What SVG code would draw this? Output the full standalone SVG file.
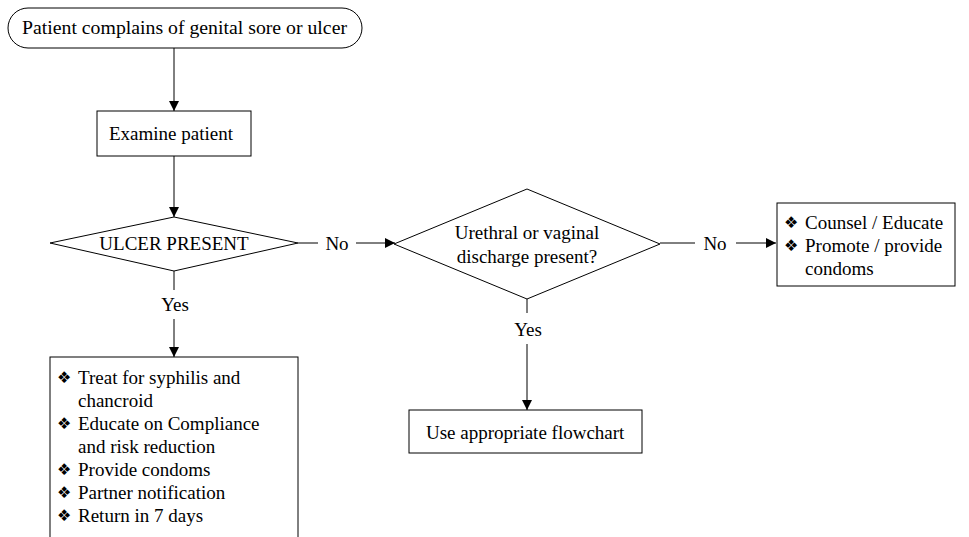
<svg xmlns="http://www.w3.org/2000/svg" width="969" height="537" viewBox="0 0 969 537">
<defs>
<marker id="ah" markerWidth="10" markerHeight="10" refX="10" refY="5" orient="auto" markerUnits="userSpaceOnUse">
<path d="M0,0 L10,5 L0,10 Z" fill="#000"/>
</marker>
<style>
.s{fill:#fff;stroke:#000;stroke-width:1}
.t{font-family:"Liberation Serif","Times New Roman",serif;font-size:19px;fill:#000}
.c{text-anchor:middle}
.b{font-family:"DejaVu Sans",sans-serif;font-size:16px}
.l{stroke:#000;stroke-width:1;fill:none}
</style>
</defs>
<rect width="969" height="537" fill="#fff"/>
<g id="connectors">
<line class="l" x1="174" y1="48" x2="174" y2="111" marker-end="url(#ah)"/>
<line class="l" x1="174" y1="156" x2="174" y2="217" marker-end="url(#ah)"/>
<line class="l" x1="298" y1="243" x2="318" y2="243"/>
<line class="l" x1="356" y1="243" x2="395" y2="243" marker-end="url(#ah)"/>
<line class="l" x1="174" y1="271" x2="174" y2="290"/>
<line class="l" x1="174" y1="319" x2="174" y2="357" marker-end="url(#ah)"/>
<line class="l" x1="660" y1="243" x2="695" y2="243"/>
<line class="l" x1="736" y1="243" x2="776" y2="243" marker-end="url(#ah)"/>
<line class="l" x1="527" y1="299" x2="527" y2="313"/>
<line class="l" x1="527" y1="344" x2="527" y2="410" marker-end="url(#ah)"/>
<text class="t c" x="337" y="250">No</text>
<text class="t c" x="715" y="250">No</text>
<text class="t c" x="175" y="311">Yes</text>
<text class="t c" x="528" y="336">Yes</text>
</g>
<g id="start">
<rect class="s" x="8" y="8" width="354" height="40" rx="20" ry="20"/>
<text class="t" x="22" y="34" textLength="325" lengthAdjust="spacingAndGlyphs">Patient complains of genital sore or ulcer</text>
</g>
<g id="examine">
<rect class="s" x="97" y="111" width="154" height="45"/>
<text class="t c" x="171" y="140">Examine patient</text>
</g>
<g id="ulcer">
<polygon class="s" points="174,217 298,243 174,271 50,243"/>
<text class="t c" x="174" y="250">ULCER PRESENT</text>
</g>
<g id="discharge">
<polygon class="s" points="527,189 660,244 527,299 394,244"/>
<text class="t c" x="527" y="239">Urethral or vaginal</text>
<text class="t c" x="527" y="263">discharge present?</text>
</g>
<g id="counsel">
<rect class="s" x="777" y="203" width="178" height="83"/>
<text class="t"><tspan class="b" x="784" y="228">❖</tspan><tspan x="805" y="229">Counsel / Educate</tspan></text>
<text class="t"><tspan class="b" x="784" y="251">❖</tspan><tspan x="805" y="252">Promote / provide</tspan></text>
<text class="t" x="805" y="275">condoms</text>
</g>
<g id="flowchart">
<rect class="s" x="409" y="410" width="233" height="43"/>
<text class="t" x="426" y="439">Use appropriate flowchart</text>
</g>
<g id="treat">
<rect class="s" x="50" y="357" width="248" height="190"/>
<text class="t"><tspan class="b" x="57" y="383">❖</tspan><tspan x="78" y="384">Treat for syphilis and</tspan></text>
<text class="t" x="78" y="407">chancroid</text>
<text class="t"><tspan class="b" x="57" y="429">❖</tspan><tspan x="78" y="430">Educate on Compliance</tspan></text>
<text class="t" x="78" y="453">and risk reduction</text>
<text class="t"><tspan class="b" x="57" y="475">❖</tspan><tspan x="78" y="476">Provide condoms</tspan></text>
<text class="t"><tspan class="b" x="57" y="498">❖</tspan><tspan x="78" y="499">Partner notification</tspan></text>
<text class="t"><tspan class="b" x="57" y="521">❖</tspan><tspan x="78" y="522">Return in 7 days</tspan></text>
</g>
</svg>
